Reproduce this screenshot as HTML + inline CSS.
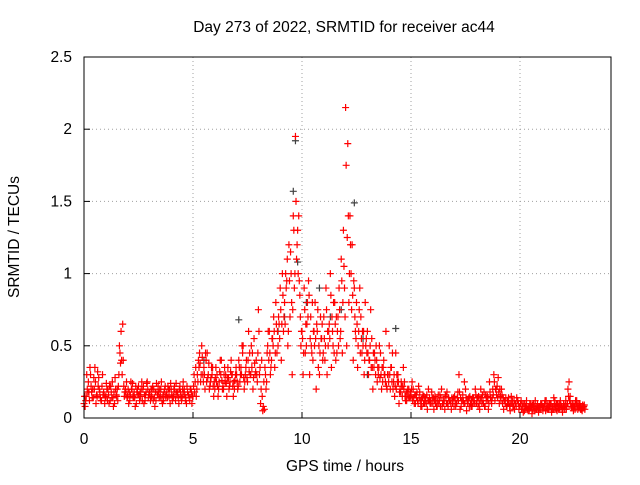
<!DOCTYPE html>
<html><head><meta charset="utf-8"><style>
body{margin:0;background:#fff}
svg text{font-family:"Liberation Sans",sans-serif;font-size:15.5px;fill:#000}
</style></head><body>
<svg width="640" height="480" viewBox="0 0 640 480">
<g id="grid"></g>
<g id="marks"></g>
<rect x="84" y="57" width="527" height="361" fill="none" stroke="#000" stroke-width="1"/>
<g id="axes"></g>
<text x="344" y="32" text-anchor="middle" style="font-size:15.5px">Day 273 of 2022, SRMTID for receiver ac44</text>
<text x="345" y="471" text-anchor="middle">GPS time / hours</text>
<text transform="translate(19,237) rotate(-90)" text-anchor="middle">SRMTID / TECUs</text>
</svg>
<script>
const xTicks=[0,5,10,15,20];
const yTicks=[0,0.5,1,1.5,2,2.5];
const yTickLabels=["0","0.5","1","1.5","2","2.5"];
const redA=[0.1,0.15,0.25,0.3,0.2,0.35,0.15,0.2,0.12,0.18,
0.15,0.2,0.12,0.25,0.1,0.15,0.3,0.6,0.4,0.2,
0.15,0.12,0.2,0.18,0.1,0.22,0.15,0.2,0.12,0.25,
0.18,0.15,0.2,0.12,0.22,0.15,0.1,0.2,0.18,0.15,
0.2,0.15,0.12,0.18,0.22,0.15,0.2,0.1,0.16,0.2,
0.15,0.25,0.3,0.45,0.5,0.35,0.4,0.3,0.25,0.35,
0.2,0.3,0.25,0.4,0.2,0.3,0.35,0.25,0.3,0.2,
0.3,0.4,0.35,0.5,0.3,0.25,0.45,0.35,0.55,0.4,
0.75,0.1,0.05,0.35,0.45,0.6,0.4,0.7,0.8,0.5,
0.9,1.0,0.8,0.95,1.2,1.0,1.4,1.95,1.3,0.85,
0.6,0.9,0.5,0.95,0.7,0.4,0.8,0.6,0.3,0.55,
0.7,0.9,0.5,1.0,0.6,0.8,0.45,0.9,1.1,1.3,
2.15,1.9,1.4,1.2,0.9,0.8,0.6,0.7,0.5,0.8,
0.6,0.4,0.55,0.35,0.5,0.3,0.45,0.25,0.3,0.2,
0.5,0.35,0.25,0.45,0.3,0.2,0.15,0.25,0.12,0.2,
0.15,0.2,0.1,0.12,0.18,0.08,0.15,0.1,0.2,0.12,
0.1,0.15,0.08,0.12,0.2,0.1,0.15,0.08,0.12,0.1,
0.15,0.1,0.3,0.08,0.12,0.2,0.1,0.15,0.08,0.12,
0.1,0.15,0.2,0.12,0.08,0.15,0.25,0.1,0.3,0.2,
0.28,0.15,0.1,0.12,0.08,0.1,0.15,0.08,0.1,0.12,
0.08,0.1,0.05,0.12,0.08,0.1,0.06,0.12,0.1,0.08,
0.1,0.08,0.12,0.06,0.1,0.08,0.12,0.05,0.1,0.08,
0.1,0.12,0.2,0.15,0.1,0.08,0.12,0.1,0.08,0.07];
const redB=[0.08,0.2,0.12,0.18,0.28,0.1,0.22,0.14,0.3,0.1,
0.2,0.1,0.18,0.08,0.2,0.12,0.45,0.3,0.15,0.25,
0.1,0.25,0.15,0.08,0.2,0.12,0.25,0.1,0.18,0.14,
0.12,0.22,0.08,0.18,0.14,0.25,0.12,0.15,0.22,0.1,
0.12,0.22,0.18,0.1,0.14,0.25,0.12,0.18,0.12,0.1,
0.3,0.15,0.4,0.25,0.3,0.2,0.45,0.2,0.35,0.15,
0.35,0.15,0.4,0.2,0.35,0.15,0.2,0.4,0.15,0.3,
0.2,0.25,0.5,0.2,0.4,0.6,0.3,0.2,0.3,0.25,
0.3,0.4,0.25,0.2,0.6,0.3,0.55,0.35,0.45,0.65,
0.4,0.6,1.0,0.5,0.7,0.3,0.9,1.1,1.4,0.5,
0.3,0.45,0.8,0.3,0.45,0.6,0.2,0.35,0.7,0.4,
0.4,0.3,0.65,0.35,0.8,0.4,0.7,0.55,0.45,0.9,
0.5,0.8,1.0,0.4,0.6,0.35,0.9,0.45,0.3,0.55,
0.3,0.75,0.2,0.4,0.25,0.5,0.2,0.4,0.6,0.3,
0.2,0.45,0.15,0.3,0.1,0.25,0.35,0.12,0.2,0.15,
0.25,0.1,0.14,0.22,0.08,0.16,0.12,0.06,0.14,0.18,
0.06,0.12,0.16,0.08,0.1,0.06,0.18,0.12,0.06,0.14,
0.08,0.18,0.06,0.12,0.25,0.05,0.14,0.08,0.1,0.2,
0.14,0.06,0.1,0.18,0.12,0.06,0.14,0.2,0.12,0.22,
0.1,0.2,0.06,0.14,0.1,0.05,0.12,0.06,0.14,0.06,
0.12,0.04,0.08,0.06,0.1,0.03,0.08,0.06,0.04,0.1,
0.05,0.12,0.06,0.1,0.04,0.14,0.06,0.08,0.12,0.04,
0.06,0.08,0.25,0.08,0.05,0.12,0.06,0.1,0.05,0.09];
const redC=[0.15,0.3,0.18,0.22,0.14,0.25,0.32,0.18,0.22,0.16,
0.24,0.16,0.22,0.14,0.28,0.2,0.5,0.4,0.22,0.18,
0.2,0.16,0.24,0.14,0.18,0.16,0.2,0.22,0.16,0.2,
0.16,0.2,0.14,0.24,0.18,0.2,0.16,0.22,0.14,0.2,
0.16,0.2,0.24,0.14,0.18,0.2,0.16,0.22,0.14,0.18,
0.22,0.35,0.25,0.38,0.42,0.3,0.25,0.38,0.28,0.22,
0.28,0.22,0.32,0.26,0.3,0.24,0.28,0.32,0.22,0.26,
0.25,0.35,0.3,0.28,0.35,0.4,0.3,0.45,0.38,0.3,
0.6,0.2,0.08,0.3,0.5,0.45,0.55,0.6,0.65,0.7,
0.75,0.85,0.65,1.1,0.95,0.8,1.3,1.5,1.0,0.7,
0.55,0.75,0.65,0.85,0.5,0.6,0.55,0.75,0.45,0.65,
0.55,0.75,0.6,0.85,0.5,0.65,0.6,0.75,0.95,1.05,
1.75,1.4,1.2,0.85,0.7,0.65,0.75,0.55,0.6,0.5,
0.45,0.5,0.35,0.45,0.4,0.35,0.3,0.35,0.25,0.3,
0.3,0.25,0.3,0.2,0.25,0.18,0.22,0.15,0.18,0.14,
0.2,0.14,0.16,0.1,0.12,0.14,0.1,0.16,0.12,0.1,
0.14,0.1,0.12,0.16,0.08,0.12,0.1,0.14,0.1,0.12,
0.12,0.14,0.18,0.12,0.1,0.14,0.12,0.1,0.14,0.1,
0.12,0.1,0.14,0.1,0.16,0.12,0.18,0.14,0.25,0.16,
0.18,0.12,0.14,0.1,0.12,0.08,0.1,0.12,0.08,0.1,
0.1,0.08,0.1,0.07,0.06,0.08,0.1,0.07,0.08,0.06,
0.08,0.1,0.07,0.08,0.1,0.06,0.08,0.1,0.07,0.06,
0.08,0.06,0.15,0.1,0.08,0.06,0.09,0.08,0.06,0.08];
const redD=[0.12,0.18,0.35,0.14,0.2,0.16,0.28,0.12,0.16,0.14,
0.12,0.22,0.14,0.18,0.16,0.22,0.38,0.65,0.18,0.14,
0.18,0.2,0.14,0.22,0.16,0.18,0.12,0.16,0.24,0.16,
0.2,0.12,0.18,0.16,0.2,0.12,0.18,0.16,0.2,0.24,
0.14,0.18,0.16,0.2,0.12,0.18,0.14,0.16,0.2,0.15,
0.18,0.2,0.35,0.3,0.25,0.45,0.28,0.22,0.3,0.25,
0.25,0.2,0.3,0.22,0.25,0.28,0.22,0.3,0.25,0.35,
0.22,0.3,0.45,0.25,0.28,0.32,0.5,0.28,0.32,0.45,
0.35,0.15,0.06,0.25,0.4,0.35,0.5,0.45,0.6,0.55,
0.65,0.7,0.9,0.6,1.15,0.75,1.0,1.2,0.95,0.6,
0.45,0.65,0.7,0.55,0.8,0.5,0.65,0.5,0.55,0.45,
0.5,0.6,0.55,0.7,0.45,0.7,0.5,0.6,0.8,0.7,
1.25,1.0,0.75,0.95,0.55,0.5,0.45,0.6,0.4,0.45,
0.4,0.35,0.45,0.3,0.35,0.28,0.35,0.3,0.22,0.25,
0.35,0.2,0.22,0.25,0.18,0.22,0.2,0.18,0.15,0.18,
0.12,0.16,0.18,0.14,0.12,0.1,0.14,0.12,0.1,0.14,
0.12,0.08,0.1,0.14,0.12,0.16,0.1,0.12,0.14,0.08,
0.1,0.12,0.14,0.16,0.1,0.12,0.08,0.12,0.14,0.16,
0.08,0.12,0.16,0.08,0.14,0.1,0.12,0.16,0.2,0.14,
0.2,0.16,0.12,0.08,0.14,0.1,0.08,0.1,0.12,0.08,
0.06,0.1,0.08,0.05,0.07,0.09,0.05,0.08,0.07,0.09,
0.07,0.05,0.09,0.07,0.06,0.09,0.1,0.06,0.09,0.07,
0.09,0.1,0.12,0.07,0.09,0.1,0.07,0.06,0.09,0.06];
const grayT=[9.7,9.6,9.8,12.4,10.2,11.3,14.3,7.1,8.9,13.0,5.5,9.2,12.8,10.8,11.8];
const grayV=[1.92,1.57,1.08,1.49,0.8,0.7,0.62,0.68,0.6,0.3,0.4,0.7,0.55,0.9,0.75];
const NS="http://www.w3.org/2000/svg";
const X=t=>84+t*21.8, Y=v=>418-v*144.4;
const grid=document.getElementById('grid'),axes=document.getElementById('axes'),marks=document.getElementById('marks');
function mk(tag,at,parent){const e=document.createElementNS(NS,tag);for(const k in at)e.setAttribute(k,at[k]);parent.appendChild(e);return e;}
xTicks.forEach(t=>{const x=X(t);
 if(t>0){const g=mk('line',{x1:x,y1:57,x2:x,y2:418,stroke:'#a0a0a0','stroke-dasharray':'1,3'},grid);
 }
 const tk=mk('line',{x1:x,y1:418,x2:x,y2:412,stroke:'#000'},axes);
 
 const tx=mk('text',{x:x,y:444,'text-anchor':'middle'},axes);tx.textContent=t;
 });
yTicks.forEach((v,i)=>{const y=Y(v);
 if(v>0&&v<2.5){const g=mk('line',{x1:84,y1:y,x2:611,y2:y,stroke:'#a0a0a0','stroke-dasharray':'1,3'},grid);
 }
 const tk=mk('line',{x1:84,y1:y,x2:90,y2:y,stroke:'#000'},axes);
 
 const tx=mk('text',{x:72,y:y+5,'text-anchor':'end'},axes);tx.textContent=yTickLabels[i];
 });
function plus(t,v,c,name){const x=X(t),y=Y(v);
 const p=mk('path',{d:`M${x-3.5},${y}H${x+3.5}M${x},${y-3.5}V${y+3.5}`,stroke:c,'stroke-width':1.2,fill:'none'},marks);
 }
grayT.forEach((t,i)=>plus(t,grayV[i],'#404040','gray-point'));
redA.forEach((v,i)=>plus(i*0.1,v,'#ff0000','red-point'));
redB.forEach((v,i)=>plus(i*0.1+0.05,v,'#ff0000','red-point'));
redC.forEach((v,i)=>plus(i*0.1+0.025,v,'#ff0000','red-point'));
redD.forEach((v,i)=>plus(i*0.1+0.075,v,'#ff0000','red-point'));
</script>
</body></html>
